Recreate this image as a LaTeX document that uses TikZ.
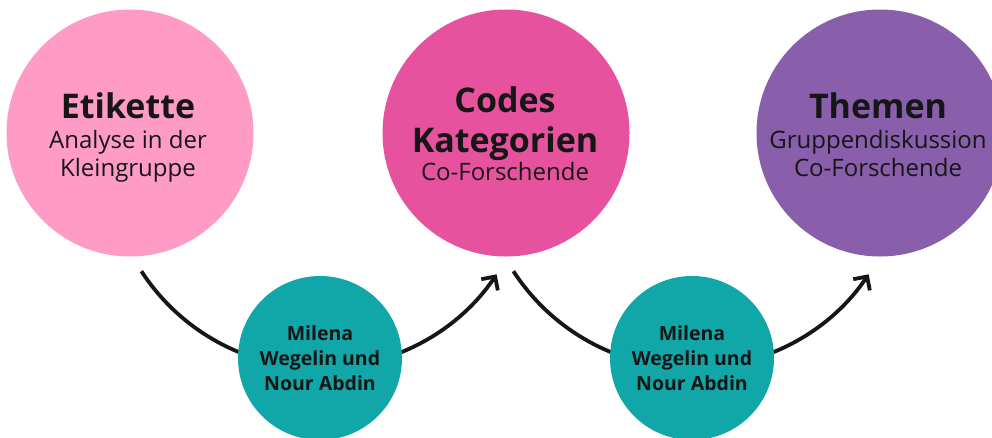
\documentclass[tikz,border=0pt]{standalone}
\usepackage{fontspec}
\setmainfont{Open Sans}
\usetikzlibrary{arrows.meta}
\definecolor{pinkA}{RGB}{254,156,198}
\definecolor{pinkB}{RGB}{231,82,158}
\definecolor{purpleC}{RGB}{137,94,170}
\definecolor{tealD}{RGB}{17,166,167}
\definecolor{ink}{RGB}{22,22,22}
\tikzset{
  bigcirc/.style={circle, inner sep=0pt, minimum size=247pt},
  smallcirc/.style={circle, fill=tealD, inner sep=0pt, minimum size=164pt},
  ttl/.style={anchor=base, inner sep=0pt, text=ink, font=\fontsize{34}{34}\selectfont\bfseries},
  sub/.style={anchor=base, inner sep=0pt, text=ink, font=\fontsize{24}{24}\selectfont},
  nm/.style={anchor=base, inner sep=0pt, text=ink, font=\fontsize{19.5}{19.5}\selectfont\bfseries},
  flow/.style={line width=3.8pt, draw=ink, -{Straight Barb[length=10pt,width=20pt,line width=3.8pt]}}
}
\begin{document}
\begin{tikzpicture}[x=1pt,y=-1pt]
\useasboundingbox (0,0) rectangle (992,437);
\clip (0,0) rectangle (992,437);
% big circles
\node[bigcirc, fill=pinkA] (c1) at (130,133) {};
\node[bigcirc, fill=pinkB] (c2) at (506,133) {};
\node[bigcirc, fill=purpleC] (c3) at (880,133) {};
% texts
\node[ttl] (t1a) at (128,118) {Etikette};
\node[sub] (t1b) at (128,148) {Analyse in der};
\node[sub] (t1c) at (128,176) {Kleingruppe};
\node[ttl] (t2a) at (505,112) {Codes};
\node[ttl] (t2b) at (505,152) {Kategorien};
\node[sub] (t2c) at (505,180) {Co-Forschende};
\node[ttl] (t3a) at (878,118) {Themen};
\node[sub] (t3b) at (878,148) {Gruppendiskussion};
\node[sub] (t3c) at (878,176) {Co-Forschende};
% arcs
\coordinate (s1) at (141.4,271.2);
\coordinate (s2) at (513.4,271.2);
\draw[flow] (s1) arc[start angle=213, end angle=326, radius=213pt];
\draw[flow] (s2) arc[start angle=213, end angle=326, radius=213pt];
% teal circles
\node[smallcirc] (m1) at (320,358) {};
\node[smallcirc] (m2) at (692,358) {};
\node[nm] (m1a) at (320,340) {Milena};
\node[nm] (m1b) at (320,365) {Wegelin und};
\node[nm] (m1c) at (320,390) {Nour Abdin};
\node[nm] (m2a) at (692,340) {Milena};
\node[nm] (m2b) at (692,365) {Wegelin und};
\node[nm] (m2c) at (692,390) {Nour Abdin};
\end{tikzpicture}
\end{document}
